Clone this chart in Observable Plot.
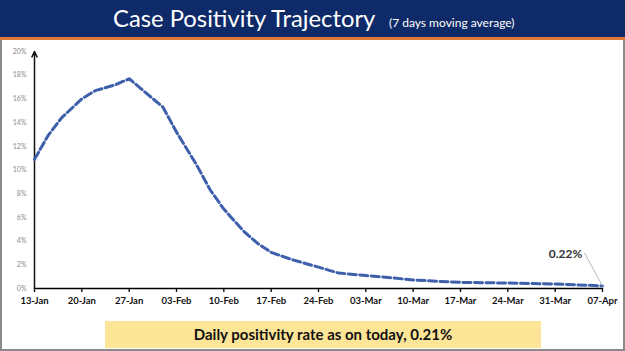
<!DOCTYPE html>
<html>
<head>
<meta charset="utf-8">
<script src="https://cdn.jsdelivr.net/npm/d3@7"></script>
<script src="https://cdn.jsdelivr.net/npm/@observablehq/plot@0.6"></script>
<style>
  html, body { margin: 0; padding: 0; background: #fff; }
  #wrap { position: relative; width: 625px; height: 351px; overflow: hidden; font-family: Lato, "Open Sans", sans-serif; }
  #header { position: absolute; left: 0; top: 0; width: 625px; height: 37px; background: #0f2a68; border-bottom: 3px solid #e07a3c; color: #fff; white-space: nowrap; }
  #header .t { position: absolute; left: 113px; top: 0; font-size: 23.8px; line-height: 37px; }
  #header .s { position: absolute; left: 389px; top: 4px; font-size: 12px; line-height: 37px; }
  #panel { position: absolute; left: 0; top: 40px; width: 625px; height: 311px; box-sizing: border-box; border: 2px solid #8a8a8a; border-top: none; }
  #chart { position: absolute; left: 0; top: 40px; }
  #caption { position: absolute; left: 105px; top: 321px; width: 436px; height: 27px; background: #fde597; text-align: center; font-size: 15px; font-weight: bold; line-height: 27px; color: #111; }
</style>
</head>
<body>
<div id="wrap">
  <div id="header"><span class="t">Case Positivity Trajectory</span><span class="s">(7 days moving average)</span></div>
  <div id="panel"></div>
  <div id="chart"></div>
  <div id="caption">Daily positivity rate as on today, 0.21%</div>
</div>
<script>
// Data (7-day moving average positivity, %)
const dates = ["2022-01-13","2022-01-15","2022-01-17","2022-01-20","2022-01-22","2022-01-25","2022-01-27",
               "2022-02-01","2022-02-03","2022-02-06","2022-02-08","2022-02-10","2022-02-13","2022-02-15",
               "2022-02-17","2022-02-20","2022-02-24","2022-02-27","2022-03-03","2022-03-07","2022-03-10",
               "2022-03-14","2022-03-17","2022-03-24","2022-03-31","2022-04-07"];
const values = [10.9, 12.9, 14.4, 16.0, 16.7, 17.2, 17.7,
                15.3, 13.2, 10.4, 8.3, 6.7, 4.8, 3.8,
                3.05, 2.45, 1.8, 1.3, 1.1, 0.89, 0.72,
                0.6, 0.52, 0.46, 0.38, 0.22];
const yTicks = [0, 2, 4, 6, 8, 10, 12, 14, 16, 18, 20];
const xTickLabels = ["13-Jan","20-Jan","27-Jan","03-Feb","10-Feb","17-Feb","24-Feb","03-Mar","10-Mar","17-Mar","24-Mar","31-Mar","07-Apr"];
const lastLabel = "0.22%";

const parse = d3.utcParse("%Y-%m-%d");
const data = dates.map((d, i) => ({date: parse(d), value: values[i]}));
const start = data[0].date, end = data[data.length - 1].date;
const xTicks = xTickLabels.map((_, i) => d3.utcDay.offset(start, 7 * i));
const last = data[data.length - 1];

const chart = Plot.plot({
  width: 625,
  height: 275,
  marginLeft: 34,
  marginRight: 23,
  marginTop: 11,
  marginBottom: 27,
  style: {fontFamily: "Lato, 'Open Sans', sans-serif", background: "transparent", overflow: "visible"},
  x: {type: "utc", domain: [start, end], label: null},
  y: {domain: [0, 20], label: null},
  marks: [
    Plot.axisY({ticks: yTicks, tickSize: 0, tickPadding: 8, tickFormat: d => d + "%", fontSize: 7, fill: "#8a8a8a", label: null}),
    Plot.axisX({ticks: xTicks, tickSize: 4, tickPadding: 5, tickFormat: (d, i) => xTickLabels[i], fontSize: 9.5, fontWeight: "bold", stroke: "#000", strokeWidth: 1.3, fill: "#111", label: null}),
    Plot.ruleY([0], {stroke: "#000", strokeWidth: 1.5}),
    Plot.arrow([0], {x1: () => start, y1: 0, x2: () => start, y2: 20, stroke: "#111", strokeWidth: 1.5, headLength: 6, headAngle: 50}),
    Plot.line(data, {x: "date", y: "value", stroke: "#3d5fac", strokeWidth: 3, strokeDasharray: "8,3.5"}),
    Plot.link([last], {x1: "date", y1: "value", x2: d => d3.utcHour.offset(d.date, -64), y2: 3.0, stroke: "#b8b8b8", strokeWidth: 1}),
    Plot.text([last], {x: "date", y: "value", text: () => lastLabel, dx: -37, dy: -32, fontSize: 12, fontWeight: "bold", fill: "#333"})
  ]
});
document.getElementById("chart").appendChild(chart);
</script>
</body>
</html>
